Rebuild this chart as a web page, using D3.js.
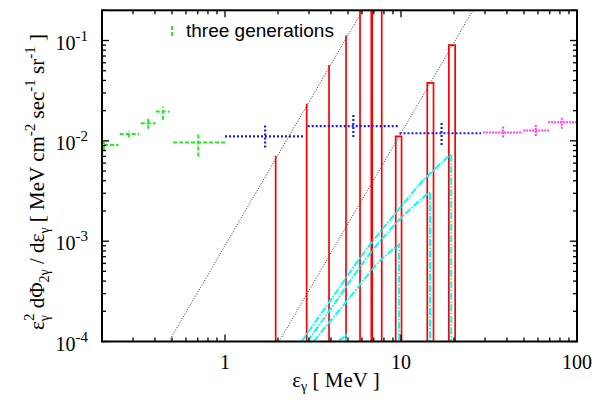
<!DOCTYPE html>
<html lang="en">
<head>
<meta charset="utf-8" />
<title>two-photon spectrum</title>
<script src="https://cdnjs.cloudflare.com/ajax/libs/d3/7.8.5/d3.min.js"></script>
<style>
	body { margin: 0; background: #fff; }
</style>
</head>
<body>
<svg width="596" height="400"></svg>
<script>
	// measurements: [x, xlo, xhi, y, ylo, yhi]
	const greenPts = [
		[0.205, 0.19, 0.248, 0.0091, 0.0081, 0.0098],
		[0.285, 0.252, 0.325, 0.0117, 0.0108, 0.0126],
		[0.366, 0.332, 0.404, 0.0150, 0.0132, 0.0170],
		[0.444, 0.404, 0.485, 0.0196, 0.0162, 0.0220],
		[0.705, 0.507, 1.0, 0.0096, 0.0070, 0.0117]
	];
	const bluePts = [
		[1.69, 1.0, 2.85, 0.0111, 0.0086, 0.0145],
		[5.36, 2.95, 9.6, 0.0140, 0.0109, 0.0182],
		[17.0, 9.8, 28.5, 0.0119, 0.0091, 0.0153]
	];
	const magentaPts = [
		[38.0, 29.2, 49.0, 0.0121, 0.0108, 0.0141],
		[58.3, 49.5, 69.3, 0.0127, 0.0112, 0.0148],
		[81.9, 68.5, 100, 0.0153, 0.0132, 0.0173]
	];

	// single gamma lines
	const lineE = [1.94, 2.91, 3.90, 4.87, 5.85, 6.82, 7.77];
	const lineTop = [0.0071, 0.0234, 0.0571, 0.112, 0.2, 0.29, 0.42];
	// narrow boxes
	const boxLo = [9.33, 14.1, 18.7];
	const boxHi = [10.07, 15.3, 20.3];
	const boxTop = [0.0111, 0.0378, 0.0898];

	// cyan spectra, each ends with a drop to the axis
	const cyanA = [[2.72, 1e-4], [3.91, 2.47e-4], [6.30, 8.13e-4], [10.17, 2.29e-3], [12.65, 3.63e-3], [15.74, 5.33e-3], [19.3, 7.41e-3]];
	const cyanB = [[2.94, 1e-4], [4.24, 2.47e-4], [6.75, 7.76e-4], [10.17, 1.75e-3], [14.62, 3.11e-3]];
	const cyanC = [[3.18, 1e-4], [4.87, 2.47e-4], [7.83, 6.71e-4], [9.74, 9.27e-4]];
	const cyanD = [[4.44, 1.02e-4], [4.87, 1.15e-4]];

	// dotted guide lines
	const guideLines = [
		[[0.48, 1e-4], [6.05, 0.2]],
		[[2.03, 1e-4], [25.6, 0.2]]
	];

	const xTickVals = [1, 10, 100];
	const yTickExp = [-4, -3, -2, -1];

	const serif = '"Liberation Serif", "DejaVu Serif", "Times New Roman", serif';
	const sans = '"Liberation Sans", Arial, sans-serif';

	let svg = d3.select('svg');

	let x = d3.scaleLog().domain([0.2, 100]).range([102, 577]);
	let y = d3.scaleLog().domain([1e-4, 0.2]).range([341.5, 10.3]);

	let x0 = x.range()[0], x1 = x.range()[1];
	let y0 = y.range()[0], y1 = y.range()[1];

	svg.append('clipPath').attr('id', 'plot')
		.append('rect')
		.attr('x', x0).attr('y', y1)
		.attr('width', x1 - x0).attr('height', y0 - y1);

	let g = svg.append('g').attr('clip-path', 'url(#plot)');

	// guide lines
	g.selectAll('line.guide')
		.data(guideLines)
		.enter()
		.append('line')
		.attr('x1', d => x(d[0][0])).attr('y1', d => y(d[0][1]))
		.attr('x2', d => x(d[1][0])).attr('y2', d => y(d[1][1]))
		.attr('stroke', '#333')
		.attr('stroke-width', 1)
		.attr('stroke-dasharray', '1,1.6');

	// red lines
	g.selectAll('line.gline')
		.data(lineE)
		.enter()
		.append('line')
		.attr('x1', d => x(d)).attr('x2', d => x(d))
		.attr('y1', y0)
		.attr('y2', (d, i) => y(lineTop[i]))
		.attr('stroke', '#ff0000')
		.attr('stroke-width', (d, i) => i == 5 ? 2.6 : 1.7);

	g.selectAll('path.box')
		.data(boxLo)
		.enter()
		.append('path')
		.attr('d', (d, i) => 'M' + x(d) + ',' + y0 + 'V' + y(boxTop[i]) + 'H' + x(boxHi[i]) + 'V' + y0)
		.attr('fill', 'none')
		.attr('stroke', '#ff0000')
		.attr('stroke-width', 1.7);

	// cyan spectra
	let curve = d3.line().x(d => x(d[0])).y(d => y(d[1])).curve(d3.curveMonotoneX);
	[cyanA, cyanB, cyanC, cyanD].forEach(c => {
		g.append('path')
			.attr('d', curve(c) + 'V' + y0)
			.attr('fill', 'none')
			.attr('stroke', '#00ffff')
			.attr('stroke-width', 2)
			.attr('stroke-dasharray', '7,1.5,1.5,1.5');
	});

	// error bars
	function errBars(data, color, dash, width) {
		let eg = g.append('g')
			.attr('stroke', color)
			.attr('stroke-width', width)
			.attr('stroke-dasharray', dash);
		eg.selectAll('line.h')
			.data(data)
			.enter()
			.append('line')
			.attr('x1', d => x(d[1])).attr('x2', d => x(d[2]))
			.attr('y1', d => y(d[3])).attr('y2', d => y(d[3]));
		eg.selectAll('line.v')
			.data(data)
			.enter()
			.append('line')
			.attr('x1', d => x(d[0])).attr('x2', d => x(d[0]))
			.attr('y1', d => y(d[4])).attr('y2', d => y(d[5]));
	}
	errBars(greenPts, '#22ee22', '4,2', 2);
	errBars(bluePts, '#1a1aee', '2,2', 2.2);
	errBars(magentaPts, '#ff40ff', '2,1', 2);

	// frame
	svg.append('rect')
		.attr('x', x0).attr('y', y1)
		.attr('width', x1 - x0).attr('height', y0 - y1)
		.attr('fill', 'none')
		.attr('stroke', '#000')
		.attr('stroke-width', 2);

	// ticks
	let ticks = svg.append('g').attr('stroke', '#000').attr('stroke-width', 1.3);
	let isMajor = v => Math.abs(Math.log10(v) - Math.round(Math.log10(v))) < 1e-6;
	x.ticks().forEach(v => {
		let len = isMajor(v) ? 7 : 4;
		ticks.append('line').attr('x1', x(v)).attr('x2', x(v)).attr('y1', y0).attr('y2', y0 - len);
		ticks.append('line').attr('x1', x(v)).attr('x2', x(v)).attr('y1', y1).attr('y2', y1 + len);
	});
	y.ticks().forEach(v => {
		let len = isMajor(v) ? 7 : 4;
		ticks.append('line').attr('y1', y(v)).attr('y2', y(v)).attr('x1', x0).attr('x2', x0 + len);
		ticks.append('line').attr('y1', y(v)).attr('y2', y(v)).attr('x1', x1).attr('x2', x1 - len);
	});

	// tick labels
	svg.selectAll('text.xt')
		.data(xTickVals)
		.enter()
		.append('text')
		.attr('x', d => x(d))
		.attr('y', 369)
		.attr('text-anchor', 'middle')
		.attr('font-family', serif)
		.attr('font-size', 20)
		.text(d => d);

	let yt = svg.selectAll('text.yt')
		.data(yTickExp)
		.enter()
		.append('text')
		.attr('x', 88)
		.attr('y', d => y(Math.pow(10, d)) + 9)
		.attr('text-anchor', 'end')
		.attr('font-family', serif)
		.attr('font-size', 20);
	yt.append('tspan').text('10');
	yt.append('tspan').attr('dy', -9).attr('font-size', 15).text(d => '-' + Math.abs(d));

	// axis titles
	let xl = svg.append('text')
		.attr('x', 336).attr('y', 387)
		.attr('text-anchor', 'middle')
		.attr('font-family', serif)
		.attr('font-size', 21);
	xl.append('tspan').text('ε');
	xl.append('tspan').attr('font-size', 14).attr('dy', 4).text('γ');
	xl.append('tspan').attr('dy', -4).text(' [ MeV ]');

	let yl = svg.append('text')
		.attr('transform', 'translate(44,182) rotate(-90)')
		.attr('text-anchor', 'middle')
		.attr('font-family', serif)
		.attr('font-size', 21);
	yl.append('tspan').text('ε');
	yl.append('tspan').attr('font-size', 14).attr('dy', 5).text('γ');
	yl.append('tspan').attr('font-size', 15).attr('dx', -6).attr('dy', -15).text('2');
	yl.append('tspan').attr('dy', 10).text(' dΦ');
	yl.append('tspan').attr('font-size', 14).attr('dy', 5).text('2γ');
	yl.append('tspan').attr('dy', -5).text(' / dε');
	yl.append('tspan').attr('font-size', 14).attr('dy', 5).text('γ');
	yl.append('tspan').attr('dy', -5).text(' [ MeV cm');
	yl.append('tspan').attr('font-size', 15).attr('dy', -9).text('-2');
	yl.append('tspan').attr('dy', 9).text(' sec');
	yl.append('tspan').attr('font-size', 15).attr('dy', -9).text('-1');
	yl.append('tspan').attr('dy', 9).text(' sr');
	yl.append('tspan').attr('font-size', 15).attr('dy', -9).text('-1');
	yl.append('tspan').attr('dy', 9).text(' ]');

	// legend
	svg.append('line')
		.attr('x1', 172).attr('x2', 172)
		.attr('y1', 26).attr('y2', 38)
		.attr('stroke', '#22ee22')
		.attr('stroke-width', 2)
		.attr('stroke-dasharray', '4,2');
	svg.append('text')
		.attr('x', 186).attr('y', 37)
		.attr('font-family', sans)
		.attr('font-size', 19)
		.text('three generations');
</script>
</body>
</html>
